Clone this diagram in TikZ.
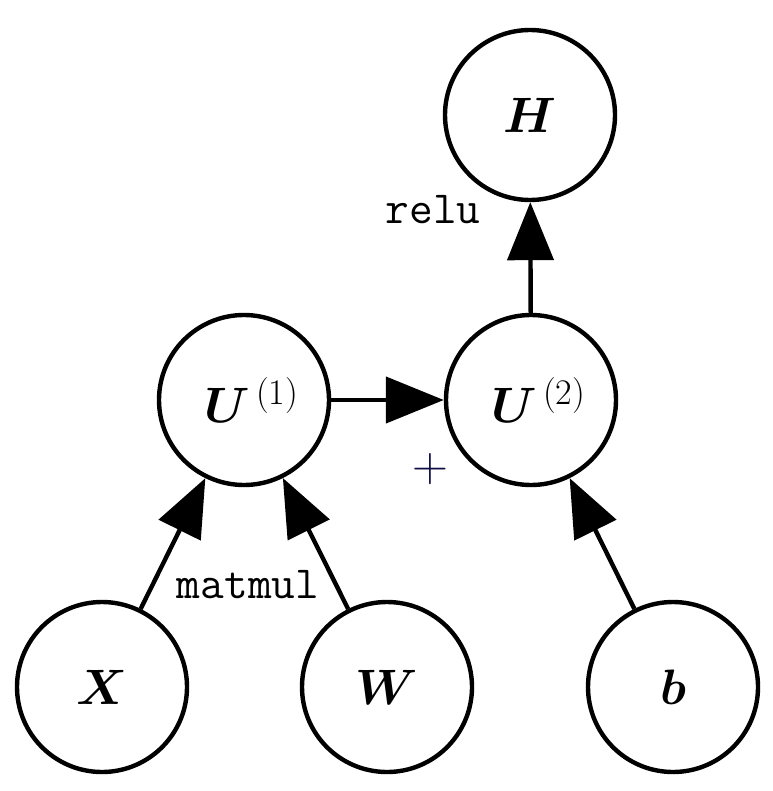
\documentclass[tikz,border=0pt]{standalone}
\usepackage{bm}
\usetikzlibrary{arrows.meta}
% superscript index set at a fixed size
\newcommand{\supidx}[1]{^{\,\hbox{\fontsize{18}{21}\selectfont(#1)}}}
\begin{document}
\begin{tikzpicture}[x=0.5pt,y=-0.5pt,
  var/.style={circle,draw,line width=2.2pt,minimum size=85pt,inner sep=0pt,
    font=\fontsize{24}{28}\selectfont},
  op/.style={font=\fontsize{23}{27}\selectfont\ttfamily,inner sep=0pt},
  flow/.style={line width=2.2pt,-{Triangle[length=29pt,width=23pt]}}]
  \useasboundingbox (0,0) rectangle (772,791);
  % variable nodes
  \node[var] (H)  at (530,115) {$\bm{H}$};
  \node[var] (U1) at (244,400) {\hspace*{8pt}$\bm{U}\supidx{1}$};
  \node[var] (U2) at (531,400) {\hspace*{8pt}$\bm{U}\supidx{2}$};
  \node[var] (X)  at (102,687) {$\bm{X}$};
  \node[var] (W)  at (387,687) {$\bm{W}$};
  \node[var] (b)  at (673,687) {$\bm{b}$};
  % operation labels
  \node[op] (relu) at (433,210) {relu};
  \node[op] (matmul) at (248,585) {matmul};
  \node[inner sep=0pt,text={rgb,255:red,15;green,15;blue,70},
    font=\fontsize{23}{26}\selectfont] (plus) at (430,469) {$+$};
  % edges
  \draw[flow] (X) -- (U1);
  \draw[flow] (W) -- (U1);
  \draw[flow] (U1) -- (U2);
  \draw[flow] (b) -- (U2);
  \draw[flow] (U2) -- (H);
\end{tikzpicture}
\end{document}
